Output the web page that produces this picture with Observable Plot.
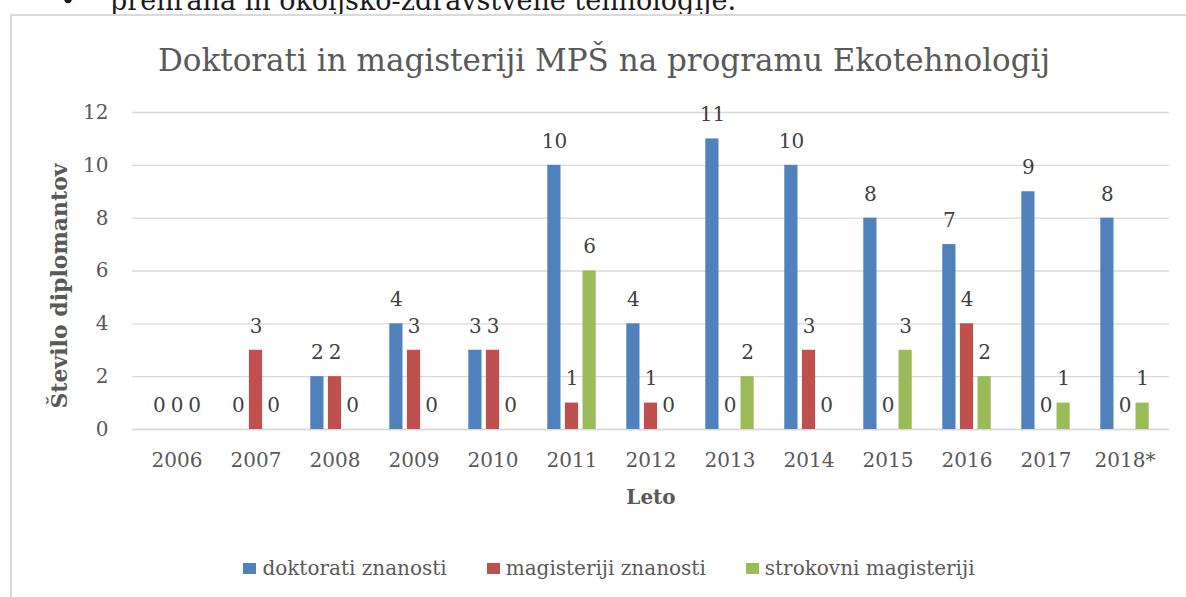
<!DOCTYPE html>
<html>
<head>
<meta charset="utf-8">
<script src="https://cdn.jsdelivr.net/npm/d3@7"></script>
<script src="https://cdn.jsdelivr.net/npm/@observablehq/plot@0.6"></script>
<style>
  html, body { margin: 0; padding: 0; background: #fff; }
  body { width: 1186px; height: 597px; overflow: hidden; position: relative; font-family: "DejaVu Serif", serif; }
  #toptext { position: absolute; top: -13px; left: 0; width: 1186px; height: 27px; font-size: 27px; line-height: 27px; color: #1a1a1a; white-space: nowrap; }
  #box { position: absolute; left: 10px; top: 14px; width: 1200px; height: 620px; border: 2px solid #d9d9d9; box-sizing: border-box; }
  #title { position: absolute; left: 0; width: 1208px; top: 42px; text-align: center; font-size: 31px; line-height: 36px; color: #595959; }
  #chart { position: absolute; left: 0; top: 100px; }
  #legend { position: absolute; left: 0; width: 1218px; top: 556px; display: flex; justify-content: center; gap: 40px; font-size: 20px; line-height: 24px; color: #595959; }
  .item { display: flex; align-items: center; gap: 6px; }
  .sw { width: 13px; height: 11px; display: inline-block; }
</style>
</head>
<body>
<div id="toptext"><span style="position:absolute;left:60px">•</span><span style="position:absolute;left:110px">prehrana in okoljsko-zdravstvene tehnologije.</span></div>
<div id="box"></div>
<div id="title"></div>
<div id="chart"></div>
<div id="legend"></div>
<script>
const titleText = "Doktorati in magisteriji MPŠ na programu Ekotehnologij";
const xTitle = "Leto";
const yTitle = "Število diplomantov";
const years = ["2006","2007","2008","2009","2010","2011","2012","2013","2014","2015","2016","2017","2018*"];
const seriesNames = ["doktorati znanosti","magisteriji znanosti","strokovni magisteriji"];
const colors = ["#4F81BD","#C0504D","#9BBB59"];
const doktorati = [0,0,2,4,3,10,4,11,10,8,7,9,8];
const magisterijiZnanosti = [0,3,2,3,3,1,1,0,3,0,4,0,0];
const strokovniMagisteriji = [0,0,0,0,0,6,0,2,0,3,2,1,1];
const yTicks = [0,2,4,6,8,10,12];

const seriesValues = [doktorati, magisterijiZnanosti, strokovniMagisteriji];
const rows = [];
seriesValues.forEach((vals, si) => vals.forEach((v, i) => rows.push({year: years[i], series: seriesNames[si], value: v})));

document.getElementById("title").textContent = titleText;

const offsets = [-17.6, 0, 17.6];
const barMarks = [];
seriesNames.forEach((s, si) => {
  const data = rows.filter(d => d.series === s);
  barMarks.push(Plot.barY(data, {x: "year", y: "value", fill: colors[si], dx: offsets[si], insetLeft: 32.9, insetRight: 32.9}));
  barMarks.push(Plot.text(data, {x: "year", y: "value", text: d => String(d.value), dx: offsets[si], dy: -24, fill: "#404040", fontSize: 20}));
});

const chart = Plot.plot({
  width: 1186,
  height: 420,
  marginLeft: 132,
  marginRight: 17,
  marginTop: 12,
  marginBottom: 91,
  style: {fontFamily: "DejaVu Serif, serif", fontSize: "20px", color: "#595959", background: "transparent", overflow: "visible"},
  x: {domain: years, padding: 0},
  y: {domain: [0, 12]},
  marks: [
    Plot.gridY(yTicks, {stroke: "#d9d9d9", strokeOpacity: 1, strokeWidth: 1.4}),
    Plot.ruleY([0], {stroke: "#d9d9d9", strokeWidth: 1.4}),
    Plot.axisY(yTicks, {tickSize: 0, tickPadding: 24, label: null, fill: "#595959"}),
    Plot.axisX({tickSize: 0, tickPadding: 23, label: null, fill: "#595959"}),
    ...barMarks,
    Plot.text([xTitle], {frameAnchor: "bottom", dy: 74, fontWeight: "bold", fontSize: 20, fill: "#595959"}),
    Plot.text([yTitle], {frameAnchor: "left", textAnchor: "middle", dx: -73, dy: 15, rotate: -90, fontWeight: "bold", fontSize: 22, fill: "#595959"})
  ]
});
document.getElementById("chart").appendChild(chart);

const legend = document.getElementById("legend");
seriesNames.forEach((s, si) => {
  const item = document.createElement("div");
  item.className = "item";
  const sw = document.createElement("span");
  sw.className = "sw";
  sw.style.background = colors[si];
  const t = document.createElement("span");
  t.textContent = s;
  item.appendChild(sw);
  item.appendChild(t);
  legend.appendChild(item);
});
</script>
</body>
</html>
